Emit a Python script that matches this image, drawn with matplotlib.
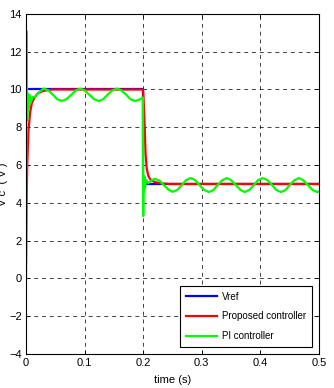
import matplotlib
matplotlib.use('Agg')
import matplotlib.pyplot as plt

plt.rcParams['font.family'] = ['Liberation Sans', 'DejaVu Sans']
plt.rcParams['font.size'] = 8

# Vref
t_ref = [0.0, 0.2, 0.2, 0.5]
v_ref = [10.0, 10.0, 5.0, 5.0]

# proposed controller
t_prop = [0.0, 0.001, 0.002, 0.004, 0.007, 0.010, 0.015, 0.020, 0.030, 0.045,
          0.199, 0.200, 0.202, 0.204, 0.206, 0.209, 0.213, 0.220, 0.230, 0.245, 0.500]
v_prop = [0.8, 4.0, 6.0, 7.8, 8.8, 9.3, 9.6, 9.8, 9.93, 10.0,
          10.0, 9.9, 8.5, 6.6, 5.8, 5.4, 5.2, 5.1, 5.03, 5.0, 5.0]

# PI controller
t_pi = [0.0, 0.0008, 0.002, 0.003, 0.004, 0.006, 0.008, 0.011, 0.015, 0.022,
        0.030, 0.038, 0.046, 0.053, 0.061, 0.069, 0.077, 0.085,
        0.0925, 0.100, 0.108, 0.116, 0.124, 0.132, 0.139, 0.147,
        0.155, 0.163, 0.171, 0.178, 0.186, 0.194, 0.1995,
        0.2, 0.2005, 0.2012, 0.202, 0.203, 0.205, 0.209, 0.215,
        0.220, 0.228, 0.235, 0.243, 0.250, 0.258, 0.266, 0.273,
        0.281, 0.289, 0.296, 0.304, 0.312, 0.320, 0.327, 0.335,
        0.343, 0.350, 0.358, 0.366, 0.373, 0.381, 0.389, 0.396,
        0.404, 0.412, 0.420, 0.427, 0.435, 0.443, 0.450, 0.458,
        0.466, 0.473, 0.481, 0.489, 0.497, 0.500]
v_pi = [0.0, 13.1, 8.4, 9.8, 8.9, 9.7, 9.3, 9.6, 9.6, 9.85,
        10.05, 9.95, 9.72, 9.49, 9.39, 9.49, 9.72, 9.95,
        10.05, 9.95, 9.72, 9.49, 9.39, 9.49, 9.72, 9.95,
        10.05, 9.95, 9.72, 9.49, 9.39, 9.47, 9.58,
        3.3, 5.3, 4.6, 5.4, 4.8, 5.2, 5.05, 5.2,
        5.27, 5.17, 4.94, 4.70, 4.58, 4.68, 4.94, 5.20,
        5.31, 5.20, 4.94, 4.68, 4.57, 4.68, 4.94, 5.20,
        5.31, 5.20, 4.94, 4.68, 4.57, 4.68, 4.94, 5.20,
        5.31, 5.20, 4.94, 4.68, 4.57, 4.68, 4.94, 5.20,
        5.31, 5.20, 4.94, 4.68, 4.57, 4.59]

fig = plt.figure(figsize=(3.34, 3.88), dpi=100)
ax = fig.add_axes([0.078, 0.088, 0.877, 0.876])

ax.plot(t_ref, v_ref, color='#0000ff', lw=1.6, label='Vref')
ax.plot(t_prop, v_prop, color='#ff0000', lw=1.6, label='Proposed controller',
        solid_joinstyle='round')
ax.plot(t_pi, v_pi, color='#00ff00', lw=1.6, label='PI controller',
        solid_joinstyle='round')

ax.set_xlim(0, 0.5)
ax.set_ylim(-4, 14)
ax.set_xticks([0, 0.1, 0.2, 0.3, 0.4, 0.5])
ax.set_xticklabels(['0', '0.1', '0.2', '0.3', '0.4', '0.5'])
ax.set_yticks(range(-4, 15, 2))
ax.grid(True, color='black', linestyle=(0, (4, 4)), linewidth=0.7, alpha=0.75)
ax.tick_params(direction='in', top=True, right=True, length=3, width=0.6, pad=3)
for s in ax.spines.values():
    s.set_linewidth(0.8)

ax.set_xlabel('time (s)', labelpad=5)
ax.set_ylabel('V c  ( V )')
ax.yaxis.set_label_coords(-0.06, 0.5)

leg = ax.legend(loc='lower right', fancybox=False, edgecolor='black',
                framealpha=1, fontsize=7, handlelength=3.2, borderaxespad=0.7,
                labelspacing=1.0, handletextpad=0.5, borderpad=0.6)
leg.get_frame().set_linewidth(0.8)

fig.savefig('out.png', dpi=100)
